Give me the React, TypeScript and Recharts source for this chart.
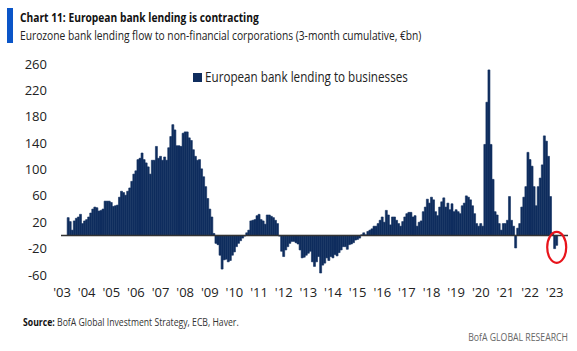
import React, { useLayoutEffect, useRef, useState } from 'react';
import { BarChart, Bar, XAxis, YAxis, ReferenceLine, ReferenceDot, Legend } from 'recharts';

// Monthly 3-month cumulative flows (€bn), Jan..Dec of each year
const years = [2003, 2004, 2005, 2006, 2007, 2008, 2009, 2010, 2011, 2012, 2013, 2014, 2015, 2016, 2017, 2018, 2019, 2020, 2021, 2022, 2023];
const v2003 = [null, null, null, 27, 21, 8, 22, 26, 28, 32, 18, 22];
const v2004 = [24, 28, 34, 40, 43, 42, 37, 38, 40, 52, 52, 52];
const v2005 = [50, 44, 45, 46, 58, 67, 65, 61, 67, 72, 82, 93];
const v2006 = [98, 115, 117, 125, 115, 110, 104, 93, 114, 114, 135, 117];
const v2007 = [120, 114, 119, 114, 133, 150, 168, 160, 136, 136, 135, 155];
const v2008 = [157, 157, 148, 144, 130, 120, 114, 115, 101, 89, 74, 56];
const v2009 = [40, 28, 3, -12, -14, -30, -51, -37, -36, -40, -38, -30];
const v2010 = [-25, -17, -12, -8, -4, -1, 4, 8, 22, 23, 24, 30];
const v2011 = [32, 24, 22, 17, 31, 31, 29, 27, 23, 18, -1, -24];
const v2012 = [-32, -22, -17, -12, -9, -9, -11, -13, -22, -34, -33, -30];
const v2013 = [-27, -24, -40, -47, -40, -32, -57, -45, -42, -34, -38, -32];
const v2014 = [-34, -29, -31, -26, -22, -17, -17, -21, -14, -13, -11, -7];
const v2015 = [-6, -4, 1, 4, 1, 6, 8, 10, 14, 14, 18, 23];
const v2016 = [28, 20, 38, 31, 16, 28, 28, 23, 18, 14, 21, 28];
const v2017 = [33, 35, 35, 28, 30, 14, 20, 22, 36, 43, 55, 49];
const v2018 = [58, 54, 36, 30, 43, 51, 57, 43, 49, 39, 48, 36];
const v2019 = [39, 36, 33, 45, 49, 60, 58, 54, 45, 33, 18, 14];
const v2020 = [18, 14, 138, 202, 251, 138, 85, 36, 31, 18, 8, 18];
const v2021 = [18, 23, 59, 23, 14, -19, 11, 18, 43, 58, 74, 126];
const v2022 = [115, 105, 74, 45, 74, 87, 107, 151, 143, 120, 59, 4];
const v2023 = [-20, -15, null, null, null, null, null];

const yearValues = [v2003, v2004, v2005, v2006, v2007, v2008, v2009, v2010, v2011, v2012, v2013, v2014, v2015, v2016, v2017, v2018, v2019, v2020, v2021, v2022, v2023];

const yTicks = [-60, -20, 20, 60, 100, 140, 180, 220, 260];
const xTicks = years.map((y) => `${y}-01`);

const seriesName = 'European bank lending to businesses';
const title = 'Chart 11: European bank lending is contracting';
const subtitle = 'Eurozone bank lending flow to non-financial corporations (3-month cumulative, €bn)';
const sourceLabel = 'Source:';
const sourceText = ' BofA Global Investment Strategy, ECB, Haver.';
const footer = 'BofA GLOBAL RESEARCH';

const data: { month: string; value: number | null }[] = [];
yearValues.forEach((arr, i) => {
  arr.forEach((v, j) => {
    data.push({ month: `${years[i]}-${String(j + 1).padStart(2, '0')}`, value: v });
  });
});

const BAR = '#0f2d5e';
const FONT = '"Open Sans", "Noto Sans", sans-serif';

// Text squeezed horizontally to a target width (the original uses a condensed face)
const FitText = ({ x, y, width, anchor = 'start', children, ...rest }: any) => {
  const ref = useRef<SVGTextElement | null>(null);
  const [s, setS] = useState(1);
  useLayoutEffect(() => {
    if (ref.current) {
      const len = ref.current.getComputedTextLength();
      if (len > 0) setS(width / len);
    }
  }, [width]);
  return (
    <text ref={ref} x={0} y={0} textAnchor={anchor} transform={`translate(${x},${y}) scale(${s},1)`} fontFamily={FONT} {...rest}>
      {children}
    </text>
  );
};

const LegendContent = () => (
  <svg width={300} height={28} style={{ display: 'block', overflow: 'visible' }}>
    <rect x={3} y={9} width={9} height={9} fill={BAR} />
    <FitText x={15} y={18} width={203} fontSize={14} fill="#222">
      {seriesName}
    </FitText>
  </svg>
);

const Ellipse = (props: any) => (
  <ellipse cx={props.cx} cy={props.cy} rx={9.5} ry={15.5} fill="none" stroke="#e8141b" strokeWidth={2.2} />
);

export default function App() {
  return (
    <div style={{ position: 'absolute', left: 0, top: 0, width: 577, height: 351, background: '#fff', fontFamily: FONT }}>
      <svg width={577} height={351} style={{ position: 'absolute', left: 0, top: 0 }}>
        <rect x={7} y={8} width={6} height={35} fill="#0a55c8" />
        <FitText x={20} y={22} width={239} fontSize={13} fontWeight={700} fill="#111">
          {title}
        </FitText>
        <FitText x={20} y={40} width={402} fontSize={13} fill="#222">
          {subtitle}
        </FitText>
        <FitText x={23} y={326} width={216} fontSize={11} fill="#333">
          <tspan fontWeight={700} fill="#111">{sourceLabel}</tspan>
          {sourceText}
        </FitText>
        <FitText x={568} y={341} width={100} anchor="end" fontSize={10.5} fill="#666">
          {footer}
        </FitText>
      </svg>
      <div style={{ position: 'absolute', left: 0, top: 0 }}>
        <BarChart
          width={577}
          height={351}
          data={data}
          margin={{ top: 64, right: 9, bottom: 46, left: 0 }}
          barCategoryGap={0}
          barGap={0}
        >
          <XAxis
            dataKey="month"
            type="category"
            ticks={xTicks}
            interval={0}
            axisLine={false}
            tickLine={false}
            tickSize={0}
            tickMargin={12.5}
            height={30}
            tickFormatter={(v: string) => `'${v.slice(2, 4)}`}
            tick={{ fontSize: 13, fill: '#222', fontFamily: FONT }}
          />
          <YAxis
            type="number"
            domain={[-60, 260]}
            ticks={yTicks}
            interval={0}
            axisLine={false}
            tickLine={false}
            tickSize={0}
            tickMargin={14}
            width={61}
            tick={{ fontSize: 13, fill: '#222', fontFamily: FONT }}
          />
          <Legend
            layout="vertical"
            align="center"
            verticalAlign="middle"
            content={<LegendContent />}
            wrapperStyle={{ position: 'absolute', left: 190, top: 64, width: 300, height: 28 }}
          />
          <Bar dataKey="value" name={seriesName} fill={BAR} stroke={BAR} strokeWidth={0.6} isAnimationActive={false} />
          <ReferenceLine y={0} stroke="#333" strokeWidth={1.5} />
          <ReferenceDot x="2023-02" y={-18} r={10} shape={<Ellipse />} />
        </BarChart>
      </div>
    </div>
  );
}
